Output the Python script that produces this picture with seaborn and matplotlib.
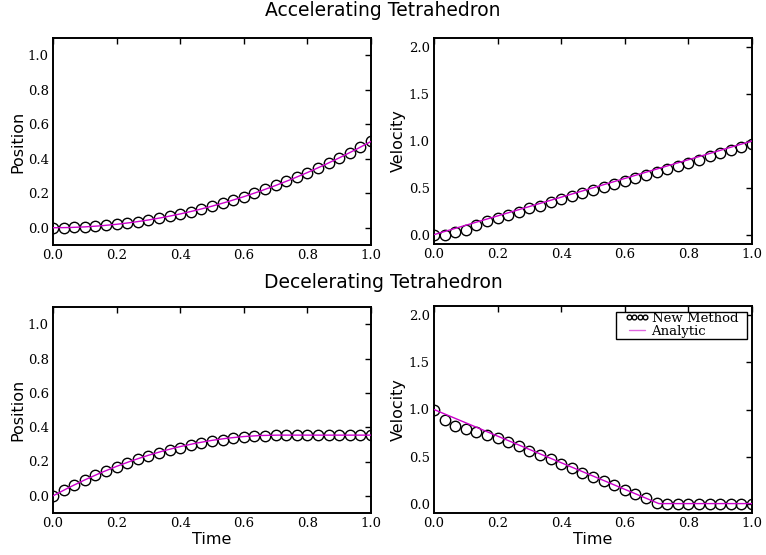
import matplotlib
matplotlib.use("Agg")
import matplotlib.pyplot as plt
from matplotlib.patches import Rectangle
import seaborn as sns
import pandas as pd

# Sample times of the simulated solution (31 steps over one second)
t_sim = [0.0, 0.0333, 0.0667, 0.1, 0.1333, 0.1667, 0.2, 0.2333, 0.2667, 0.3,
         0.3333, 0.3667, 0.4, 0.4333, 0.4667, 0.5, 0.5333, 0.5667, 0.6, 0.6333,
         0.6667, 0.7, 0.7333, 0.7667, 0.8, 0.8333, 0.8667, 0.9, 0.9333, 0.9667, 1.0]

# Accelerating case: simulated position and velocity
acc_pos_sim = [0.0, 0.0006, 0.0022, 0.005, 0.0089, 0.0139, 0.02, 0.0272, 0.0356, 0.045,
               0.0556, 0.0672, 0.08, 0.0939, 0.1089, 0.125, 0.1422, 0.1606, 0.18, 0.2006,
               0.2222, 0.245, 0.2689, 0.2939, 0.32, 0.3472, 0.3756, 0.405, 0.4356, 0.4672, 0.5]
acc_vel_sim = [0.0, -0.005, 0.023, 0.054, 0.10, 0.143, 0.18, 0.21, 0.24, 0.28,
               0.31, 0.345, 0.38, 0.41, 0.445, 0.475, 0.51, 0.54, 0.575, 0.605,
               0.64, 0.67, 0.705, 0.735, 0.77, 0.80, 0.835, 0.87, 0.90, 0.935, 0.965]

# Decelerating case: simulated position and velocity
dec_pos_sim = [0.0, 0.0325, 0.0635, 0.0925, 0.12, 0.146, 0.17, 0.192, 0.213, 0.232,
               0.25, 0.266, 0.281, 0.295, 0.307, 0.318, 0.327, 0.335, 0.341, 0.346,
               0.35, 0.352, 0.354, 0.354, 0.354, 0.354, 0.354, 0.354, 0.354, 0.354, 0.354]
dec_vel_sim = [0.995, 0.89, 0.825, 0.79, 0.765, 0.73, 0.695, 0.65, 0.61, 0.56,
               0.515, 0.47, 0.423, 0.378, 0.328, 0.286, 0.24, 0.194, 0.148, 0.10,
               0.056, 0.007, 0.0, 0.0, 0.0, 0.0, 0.0, 0.0, 0.0, 0.0, 0.0]

# Analytic reference curves
t_exact = [0.0, 0.05, 0.1, 0.15, 0.2, 0.25, 0.3, 0.35, 0.4, 0.45, 0.5,
           0.55, 0.6, 0.65, 0.7, 0.75, 0.8, 0.85, 0.9, 0.95, 1.0]
acc_pos_exact = [0.0, 0.00125, 0.005, 0.01125, 0.02, 0.03125, 0.045, 0.06125, 0.08, 0.10125, 0.125,
                 0.15125, 0.18, 0.21125, 0.245, 0.28125, 0.32, 0.36125, 0.405, 0.45125, 0.5]
t_acc_vel_exact = [0.0, 1.0]
acc_vel_exact = [0.0, 1.0]
t_dec_pos_exact = [0.0, 0.05, 0.1, 0.15, 0.2, 0.25, 0.3, 0.35, 0.4, 0.45, 0.5,
                   0.55, 0.6, 0.65, 0.7071, 1.0]
dec_pos_exact = [0.0, 0.0482, 0.0929, 0.1341, 0.1717, 0.2058, 0.2364, 0.2634, 0.2869, 0.3068, 0.3232,
                 0.3361, 0.3454, 0.3512, 0.3536, 0.3536]
t_dec_vel_exact = [0.0, 0.7071, 1.0]
dec_vel_exact = [1.0, 0.0, 0.0]

x_ticks = [0.0, 0.2, 0.4, 0.6, 0.8, 1.0]
pos_ticks = [0.0, 0.2, 0.4, 0.6, 0.8, 1.0]
vel_ticks = [0.0, 0.5, 1.0, 1.5, 2.0]

sns.set_style("white")
plt.rcParams["font.family"] = ["DejaVu Sans"]
plt.rcParams["text.color"] = "black"
plt.rcParams["axes.labelcolor"] = "black"
plt.rcParams["xtick.color"] = "black"
plt.rcParams["ytick.color"] = "black"

W, H = 766, 555
fig = plt.figure(figsize=(W / 100, H / 100), dpi=100)


def add_panel(left, top, right, bottom):
    return fig.add_axes([left / W, 1 - bottom / H, (right - left) / W, (bottom - top) / H])


panels = [
    (add_panel(53, 38, 371, 245), t_sim, acc_pos_sim, t_exact, acc_pos_exact, "Position", (-0.1, 1.1), pos_ticks, False),
    (add_panel(434, 38, 752, 244), t_sim, acc_vel_sim, t_acc_vel_exact, acc_vel_exact, "Velocity", (-0.1, 2.1), vel_ticks, False),
    (add_panel(53, 307, 371, 513), t_sim, dec_pos_sim, t_dec_pos_exact, dec_pos_exact, "Position", (-0.1, 1.1), pos_ticks, True),
    (add_panel(434, 306, 752, 513), t_sim, dec_vel_sim, t_dec_vel_exact, dec_vel_exact, "Velocity", (-0.1, 2.1), vel_ticks, True),
]

legend_ax = None
for i, (ax, ts, ys, te, ye, ylabel, ylim, yticks, bottom_row) in enumerate(panels):
    sim = pd.DataFrame({"t": ts, "y": ys})
    exact = pd.DataFrame({"t": te, "y": ye})
    sns.lineplot(data=sim, x="t", y="y", ax=ax, errorbar=None, linestyle="none",
                 marker="o", markersize=7.5, markerfacecolor="none",
                 markeredgecolor="black", markeredgewidth=1.0, color="black",
                 label="New Method", zorder=3)
    sns.lineplot(data=exact, x="t", y="y", ax=ax, errorbar=None, color="#cc00cc",
                 linewidth=1.0, label="Analytic", zorder=4)
    ax.set_xlim(0, 1)
    ax.set_ylim(*ylim)
    ax.set_xticks(x_ticks)
    ax.set_yticks(yticks)
    ax.tick_params(direction="in", length=4.5, width=1.0, top=True, right=True,
                   labelsize=9.5, pad=3, colors="black")
    for lab in ax.get_xticklabels() + ax.get_yticklabels():
        lab.set_family("DejaVu Serif")
    for sp in ax.spines.values():
        sp.set_linewidth(1.4)
        sp.set_color("black")
    ax.set_ylabel(ylabel, fontsize=11.5, labelpad=2)
    ax.set_xlabel("Time" if bottom_row else "", fontsize=11.5, labelpad=1)
    if i == 3:
        legend_ax = ax
        leg = ax.legend(loc="upper right",
                        bbox_to_anchor=((738 - 434) / 318, 1 - (312 - 306) / 207),
                        numpoints=4, markerscale=0.45,
                        prop={"family": "DejaVu Serif", "size": 9.5},
                        frameon=False, borderpad=0.0, borderaxespad=0.0,
                        labelspacing=0.0, handlelength=1.8, handletextpad=0.2)
        leg.get_lines()[1].set_alpha(0.6)
    else:
        ax.legend_.remove()

fig.text(0.5, 1 - 11 / H, "Accelerating Tetrahedron", ha="center", va="center", fontsize=13.5)
fig.text(0.5, 1 - 283 / H, "Decelerating Tetrahedron", ha="center", va="center", fontsize=13.5)

# Square legend frame with wider side padding than top/bottom
fig.canvas.draw()
bb = leg.get_window_extent().transformed(legend_ax.transAxes.inverted())
ax_w, ax_h = 318, 207
pad_x, pad_y = 9 / ax_w, 0.5 / ax_h
legend_ax.add_patch(Rectangle((bb.x0 - pad_x, bb.y0 - pad_y), bb.width + 2 * pad_x,
                              bb.height + 2 * pad_y, transform=legend_ax.transAxes,
                              facecolor="white", edgecolor="black", linewidth=1.0,
                              zorder=4.9, clip_on=False))

fig.savefig("out.png", dpi=100)
